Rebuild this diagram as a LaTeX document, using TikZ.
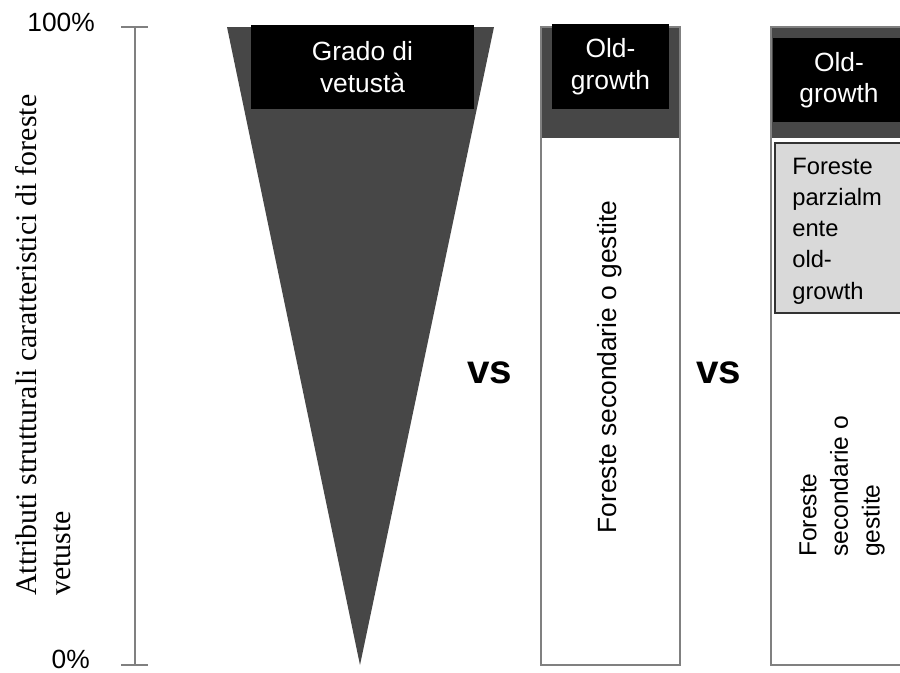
\documentclass[tikz,border=0pt]{standalone}
\usepackage{fontspec}
\setmainfont{Liberation Serif}
\setsansfont{Liberation Sans}
\begin{document}
\begin{tikzpicture}[
    x=0.02cm, y=-0.02cm,
    every node/.style={font=\sffamily\fontsize{15}{18}\selectfont},
    nero/.style={fill=black, text=white, align=center, inner sep=0pt},
    colonna/.style={draw=black!50, line width=0.8pt},
    scuro/.style={fill=black!72},
    grigio/.style={draw=black!80, fill=black!15, line width=0.6pt},
    vs/.style={font=\sffamily\bfseries\fontsize{23}{26}\selectfont},
    verticale/.style={rotate=90, align=left}
]
\clip (0,0) rectangle (900,673);
% Asse
\coordinate (alto) at (135,27);
\coordinate (basso) at (135,665);
\draw[colonna] (alto) -- (basso);
\draw[colonna] (121,27) -- (148,27);
\draw[colonna] (121,665) -- (148,665);
\node[anchor=east] (cento) at (101,22) {100\%};
\node[anchor=east] (zero) at (96,659) {0\%};
\node[verticale, anchor=west, font=\rmfamily\fontsize{17}{19}\selectfont] (attributi) at (43,602)
    {Attributi strutturali caratteristici di foreste\\vetuste};
% Grado di vetusta
\fill[scuro] (227,27) -- (494,27) -- (360,665) -- cycle;
\node[nero, minimum width=4.46cm, minimum height=1.68cm] (grado) at (362.5,67) {Grado di\\vetustà};
\node[vs] (vs1) at (490,373) {vs};
% Foreste secondarie
\fill[scuro] (541,27) rectangle (680,138);
\draw[colonna] (541,27) rectangle (680,665);
\node[nero, minimum width=2.34cm, minimum height=1.7cm] (old1) at (610.5,66.5) {Old-\\growth};
\node[verticale] (secondarie1) at (610,367) {Foreste secondarie o gestite};
\node[vs] (vs2) at (719,373) {vs};
% Foreste parzialmente old-growth
\fill[scuro] (771,27) rectangle (930,138);
\draw[colonna] (771,27) rectangle (930,665);
\node[nero, minimum width=2.64cm, minimum height=1.68cm] (old2) at (839,80) {Old-\\growth};
\draw[grigio] (775,143) rectangle (930,313);
\node[anchor=west, align=left, inner sep=0pt, font=\sffamily\fontsize{13.5}{17.8}\selectfont] (parziali) at (792,231)
    {Foreste\\parzialm\\ente\\old-\\growth};
\node[verticale, anchor=west, font=\sffamily\fontsize{14}{18}\selectfont] (secondarie2) at (842,563)
    {Foreste\\secondarie o\\gestite};
\end{tikzpicture}
\end{document}
